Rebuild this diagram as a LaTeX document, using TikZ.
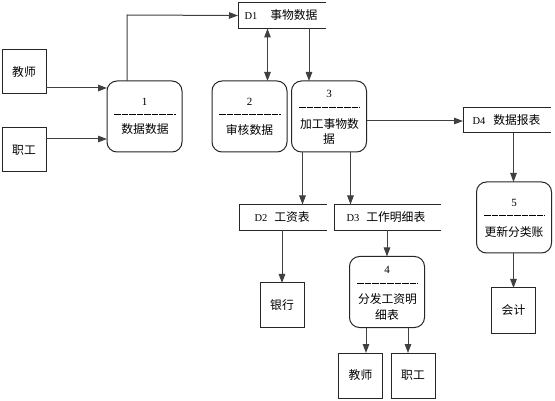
\documentclass[tikz,border=0pt]{standalone}
\usepackage{fontspec}
\setmainfont{Liberation Serif}
\newfontfamily\cjk{Noto Sans CJK SC}
\usetikzlibrary{arrows.meta,calc}
\begin{document}
\begin{tikzpicture}[x=1pt,y=-1pt,
  every node/.style={inner sep=0pt,outer sep=0pt},
  ent/.style={draw=black!85,line width=1pt,rectangle},
  proc/.style={draw=black!85,line width=1pt,rounded corners=10pt,minimum width=75pt,minimum height=71pt},
  store/.style={rectangle,minimum height=26pt},
  openbox/.style={draw=black!85,line width=1pt},
  flow/.style={draw=black!75,line width=1pt,-{Triangle[length=9pt,width=6.5pt]}},
  dflow/.style={draw=black!75,line width=1pt,{Triangle[length=9pt,width=6.5pt]}-{Triangle[length=9pt,width=6.5pt]}},
  zh/.style={font=\cjk\fontsize{11.8}{14}\selectfont},
  num/.style={font=\fontsize{11}{13}\selectfont},
  lat/.style={font=\fontsize{10.5}{13}\selectfont},
  sep/.style={draw=black,line width=0.9pt,dash pattern=on 6.5pt off 1pt}
]
\useasboundingbox[fill=white] (0,0) rectangle (555,401);

% external entities
\node[ent,minimum width=44pt,minimum height=44pt,zh] (t1) at (24,72) {教师};
\node[ent,minimum width=44pt,minimum height=44pt,zh] (w1) at (24,150) {职工};
\node[ent,minimum width=44pt,minimum height=44pt,zh] (bank) at (282,305) {银行};
\node[ent,minimum width=44pt,minimum height=45pt,zh] (acc) at (513.5,310.5) {会计};
\node[ent,minimum width=44pt,minimum height=45pt,zh] (t2) at (360.5,375.5) {教师};
\node[ent,minimum width=44pt,minimum height=45pt,zh] (w2) at (413,375.5) {职工};

% processes
\node[proc] (p1) at (144.5,116.5) {};
\node[proc] (p2) at (249.5,116.5) {};
\node[proc] (p3) at (329,116.5) {};
\node[proc] (p4) at (387,292) {};
\node[proc] (p5) at (514,217.5) {};

\node[num] (p1n) at (144.5,102) {1};
\draw[sep] (114,114) -- (176,114);
\node[zh] (p1t) at (145,129) {数据数据};

\node[num] (p2n) at (249.5,102) {2};
\draw[sep] (219,114) -- (281,114);
\node[zh] (p2t) at (249.5,130) {审核数据};

\node[num] (p3n) at (329,94) {3};
\draw[sep] (299,107) -- (360,107);
\node[zh] (p3t) at (329.5,124) {加工事物数};
\node[zh] (p3u) at (329,139.5) {据};

\node[num] (p4n) at (387,270) {4};
\draw[sep] (357,283) -- (418,283);
\node[zh] (p4t) at (387.5,299) {分发工资明};
\node[zh] (p4u) at (387,315) {细表};

\node[num] (p5n) at (514,203) {5};
\draw[sep] (484,215) -- (545,215);
\node[zh] (p5t) at (514,232) {更新分类账};

% data stores (open on the right)
\node[store,minimum width=88pt] (d1) at (282,15.5) {};
\node[store,minimum width=88pt] (d2) at (283,217.5) {};
\node[store,minimum width=107pt] (d3) at (387.5,217.5) {};
\node[store,minimum width=88pt,minimum height=25pt] (d4) at (507,120.5) {};
\foreach \d in {d1,d2,d3,d4}
  \draw[openbox] (\d.north east) -- (\d.north west) -- (\d.south west) -- (\d.south east);

\node[anchor=west] (d1l) at (244.5,15.5) {\fontsize{10.5}{13}\selectfont D1\hspace{13pt}{\cjk\fontsize{11.8}{14}\selectfont 事物数据}};
\node[anchor=west] (d2l) at (254.5,217.5) {\fontsize{10.5}{13}\selectfont D2\hspace{7pt}{\cjk\fontsize{11.8}{14}\selectfont 工资表}};
\node[anchor=west] (d3l) at (346.5,217.5) {\fontsize{10.5}{13}\selectfont D3\hspace{7pt}{\cjk\fontsize{11.8}{14}\selectfont 工作明细表}};
\node[anchor=west] (d4l) at (472.5,120.5) {\fontsize{10.5}{13}\selectfont D4\hspace{8pt}{\cjk\fontsize{11.8}{14}\selectfont 数据报表}};

% flows
\draw[flow] (t1.east |- 0,88) -- (p1.west |- 0,88);
\draw[flow] (w1.east |- 0,139) -- (p1.west |- 0,139);
\draw[flow] (p1.north -| 127,0) -- (127,15) -- (d1.west);
\draw[dflow] (d1.south -| 267.5,0) -- (p2.north -| 267.5,0);
\draw[flow] (d1.south -| 309,0) -- (p3.north -| 309,0);
\draw[flow] (p3.east |- 0,121) -- (d4.west |- 0,121);
\draw[flow] (d4.south -| 513.5,0) -- (p5.north -| 513.5,0);
\draw[flow] (p5.south -| 513.5,0) -- (acc.north);
\draw[flow] (p3.south -| 302.5,0) -- (d2.north -| 302.5,0);
\draw[flow] (p3.south -| 350.5,0) -- (d3.north -| 350.5,0);
\draw[flow] (d2.south -| 282,0) -- (bank.north);
\draw[flow] (d3.south -| 387,0) -- (p4.north);
\draw[flow] (p4.south -| 366,0) -- (t2.north -| 366,0);
\draw[flow] (p4.south -| 408,0) -- (w2.north -| 408,0);
\end{tikzpicture}
\end{document}
